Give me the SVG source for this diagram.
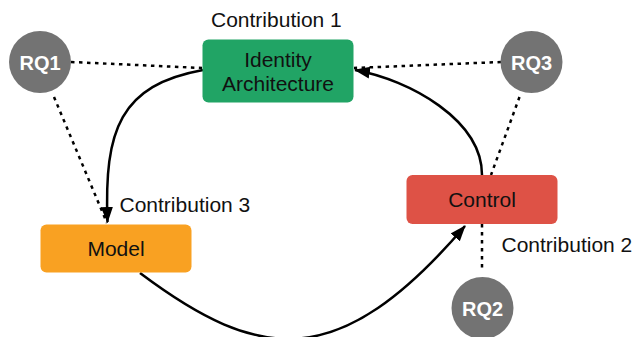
<svg xmlns="http://www.w3.org/2000/svg" width="639" height="337" viewBox="0 0 639 337">
<style>
.lbl{font-family:"Liberation Sans",Arial,Helvetica,sans-serif;font-size:21px;fill:#111}
.node{font-family:"Liberation Sans",Arial,Helvetica,sans-serif;font-size:21px;fill:#111;text-anchor:middle}
.rq{font-family:"Liberation Sans",Arial,Helvetica,sans-serif;font-size:20px;font-weight:bold;fill:#fff;text-anchor:middle}
.circ{fill:#737373}
.dot{fill:none;stroke:#000;stroke-width:2.5;stroke-dasharray:3.5 4.5}
.arc{fill:none;stroke:#000;stroke-width:2.5;marker-end:url(#ah)}
</style>
<defs>
<marker id="ah" markerUnits="userSpaceOnUse" markerWidth="16" markerHeight="13" refX="15" refY="6" orient="auto">
<path d="M0,0 L16,6 L0,12 z" fill="#000"/>
</marker>
</defs>
<g id="connectors">
<path class="dot" d="M71,62 L202,68"/>
<path class="dot" d="M54,97 L107,223"/>
<path class="dot" d="M501,62 L354,68"/>
<path class="dot" d="M519.5,97 L491,175"/>
<path class="dot" d="M482,224 L482,271"/>
<path class="arc" d="M203,70 C120,85 104,130 107.5,222"/>
<path class="arc" d="M140,273 C260,363 339,373 465,226"/>
<path class="arc" d="M482,175 C482,120 410,80 355,70"/>
</g>
<g id="identity">
<rect x="202.5" y="39.5" width="151" height="63" rx="6" fill="#21A465"/>
<text class="node" x="278" y="66.5">Identity</text>
<text class="node" x="278" y="90.5">Architecture</text>
</g>
<g id="model">
<rect x="40.5" y="224.5" width="151" height="48" rx="6" fill="#F9A122"/>
<text class="node" x="116" y="256">Model</text>
</g>
<g id="control">
<rect x="406.5" y="175" width="151" height="49" rx="6" fill="#DE5246"/>
<text class="node" x="482" y="207">Control</text>
</g>
<g id="rq1">
<circle class="circ" cx="40" cy="62" r="31"/>
<text class="rq" x="40" y="69.5">RQ1</text>
</g>
<g id="rq3">
<circle class="circ" cx="531.5" cy="62" r="31"/>
<text class="rq" x="531.5" y="69.5">RQ3</text>
</g>
<g id="rq2">
<circle class="circ" cx="482.5" cy="308" r="31"/>
<text class="rq" x="482.5" y="315.5">RQ2</text>
</g>
<g id="labels">
<text class="lbl" x="211" y="26.5">Contribution 1</text>
<text class="lbl" x="501.5" y="251.5">Contribution 2</text>
<text class="lbl" x="119.5" y="211.5">Contribution 3</text>
</g>
</svg>
